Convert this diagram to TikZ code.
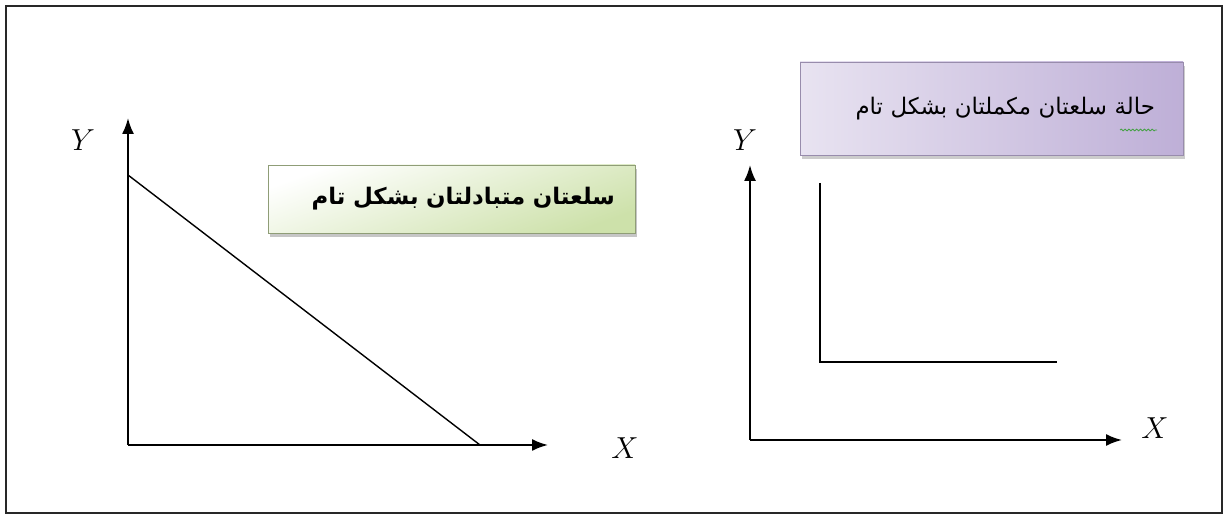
\documentclass[tikz,border=0pt]{standalone}
\usepackage{fontspec}
\newfontfamily\arabicfont[Script=Arabic]{DejaVu Sans}
\TeXXeTstate=1
\usepackage{tikz}
\usetikzlibrary{arrows.meta,shadows,decorations.pathmorphing}
\definecolor{framegray}{RGB}{40,40,40}
\definecolor{subgreen}{RGB}{205,225,170}
\definecolor{compviolet}{RGB}{190,175,215}
\definecolor{spellgreen}{RGB}{70,160,70}
\tikzset{
  axis/.style={-{Latex[length=3.2mm,width=2.4mm]}, line width=1.1pt, black},
  curve/.style={line width=0.8pt, black},
  axlabel/.style={font=\fontsize{16}{18}\selectfont, inner sep=1pt},
  subbox/.style={draw=subgreen!70!black, top color=white, bottom color=subgreen,
              shading angle=20, minimum width=7.34cm, minimum height=1.36cm,
              text width=6.54cm, align=right, inner xsep=0.4cm,
              font=\arabicfont\bfseries\fontsize{13}{15}\selectfont,
              drop shadow={opacity=0.45, shadow xshift=0.04cm, shadow yshift=-0.09cm}},
  compbox/.style={draw=compviolet!80!black, left color=compviolet!35, right color=compviolet,
              minimum width=7.66cm, minimum height=1.86cm,
              text width=6.54cm, align=right, inner xsep=0.56cm,
              font=\arabicfont\fontsize{13}{15}\selectfont,
              drop shadow={opacity=0.4, shadow xshift=0.04cm, shadow yshift=-0.09cm}},
}
\begin{document}
\begin{tikzpicture}
    \useasboundingbox (0,0) rectangle (24.6,10.6);
    \draw[framegray, line width=0.8pt] (0.12,0.34) rectangle (24.44,10.48);
    % left chart: perfect substitutes
    \coordinate (lo) at (2.56,1.70);
    \coordinate (ly) at (2.56,8.24);
    \coordinate (lx) at (10.96,1.70);
    \coordinate (ltop) at (2.56,7.10);
    \coordinate (lend) at (9.60,1.70);
    \draw[axis] (lo) -- (ly);
    \draw[axis] (lo) -- (lx);
    \draw[curve] (ltop) -- (lend);
    \node[axlabel] (lylab) at (1.66,7.80) {$Y$};
    \node[axlabel] (lxlab) at (12.50,1.64) {$X$};
    \node[subbox] (subst) at (9.03,6.62) {\beginR سلعتان متبادلتان بشكل تام\endR};
    % right chart: perfect complements
    \coordinate (ro) at (15.00,1.80);
    \coordinate (ry) at (15.00,7.30);
    \coordinate (rx) at (22.44,1.80);
    \coordinate (rtop) at (16.40,6.94);
    \coordinate (rcorner) at (16.40,3.36);
    \coordinate (rend) at (21.14,3.36);
    \draw[axis] (ro) -- (ry);
    \draw[axis] (ro) -- (rx);
    \draw[curve] (rtop) -- (rcorner) -- (rend);
    \node[axlabel] (rylab) at (14.90,7.80) {$Y$};
    \node[axlabel] (rxlab) at (23.10,2.04) {$X$};
    \node[compbox] (compl) at (19.83,8.43) {\beginR حالة سلعتان مكملتان بشكل تام\endR};
    \coordinate (wavya) at (22.40,8.00);
    \coordinate (wavyb) at (23.14,8.00);
    \draw[spellgreen, line width=0.5pt, decorate, decoration={snake, amplitude=0.5pt, segment length=2.2pt}] (wavya) -- (wavyb);
\end{tikzpicture}
\end{document}
